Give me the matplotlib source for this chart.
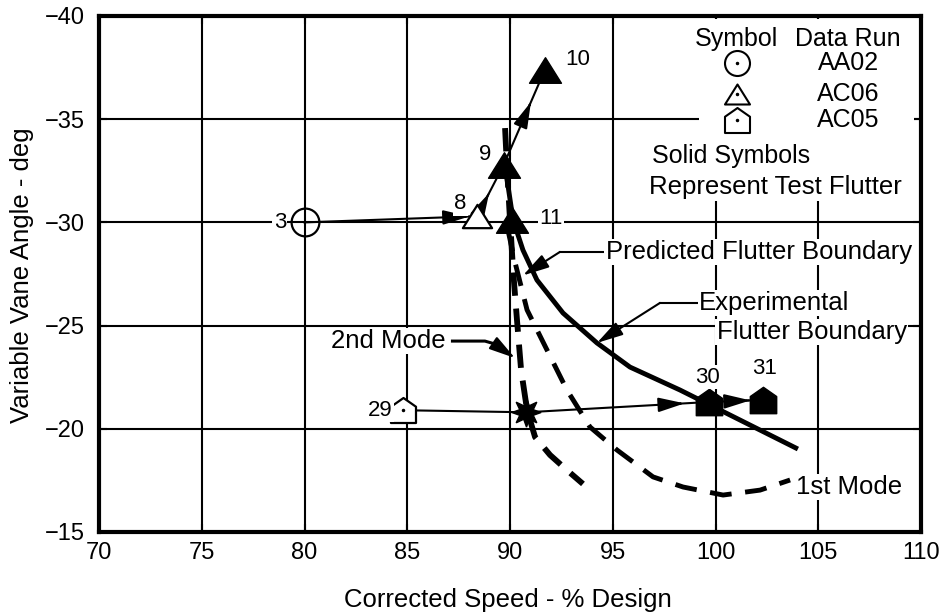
import matplotlib
matplotlib.use("Agg")
import matplotlib.pyplot as plt
from matplotlib.path import Path
from matplotlib.patches import Rectangle

plt.rcParams['font.family'] = ['Liberation Sans', 'DejaVu Sans']

# ---------------- data ----------------
x_ticks = [70, 75, 80, 85, 90, 95, 100, 105, 110]
y_ticks = [-40, -35, -30, -25, -20, -15]

# test points (speed %, vane angle deg)
pt3 = (80.0, -30.0)      # AA02 open circle
pt8 = (88.4, -30.3)      # AC06 open triangle
pt9 = (89.7, -32.8)      # AC06 solid triangle
pt10 = (91.7, -37.4)     # AC06 solid triangle
pt11 = (90.1, -30.1)     # AC06 solid triangle
pt29 = (84.8, -20.9)     # AC05 open pentagon
ptX = (90.8, -20.8)      # star
pt30 = (99.7, -21.3)     # AC05 solid pentagon
pt31 = (102.3, -21.4)    # AC05 solid pentagon

# experimental flutter boundary (solid)
exp_x = [89.76, 90.15, 90.63, 91.31, 92.58, 94.23, 95.84, 98.27, 100.22, 104.01]
exp_y = [-32.73, -30.12, -28.66, -27.21, -25.61, -24.16, -22.99, -21.88, -20.91, -19.02]

# predicted 2nd mode (heavy dash)
m2_x = [89.76, 89.85, 90.00, 90.15, 90.34, 90.54, 90.83, 91.22, 91.95, 92.77, 93.55]
m2_y = [-34.57, -32.73, -30.12, -27.69, -25.27, -22.85, -20.91, -19.60, -18.73, -18.00, -17.33]

# predicted 1st mode (dash)
m1_x = [89.90, 90.24, 90.83, 91.80, 92.77, 93.89, 95.21, 96.96, 98.42, 100.37, 102.17, 103.63]
m1_y = [-29.63, -28.08, -25.76, -23.82, -21.88, -20.09, -18.97, -17.67, -17.18, -16.79, -17.03, -17.52]

legend_names = ['AA02', 'AC06', 'AC05']

# ---------------- figure ----------------
fig = plt.figure(figsize=(9.43, 6.14), dpi=100)
ax = fig.add_axes([99/943, 1-532/614, 822/943, 516/614])
ax.set_xlim(70, 110)
ax.set_ylim(-15, -40)
ax.set_xticks(x_ticks)
ax.set_yticks(y_ticks)
ax.set_xticklabels([str(v) for v in x_ticks], fontsize=17)
ax.set_yticklabels(['\u2212%d' % abs(v) for v in y_ticks], fontsize=17)
ax.tick_params(direction='in', length=6, width=1.5, top=True, right=True)
ax.tick_params(axis='x', pad=7)
ax.tick_params(axis='y', pad=10)
for s in ax.spines.values():
    s.set_linewidth(3)
ax.set_axisbelow(True)
ax.grid(True, color='black', linewidth=1.5, zorder=0.5)

fig.text(508/943, 1-600/614, 'Corrected Speed - % Design', ha='center', va='center', fontsize=18.5)
fig.text(22/943, 1-275/614, 'Variable Vane Angle - deg', ha='center', va='center',
         rotation=90, fontsize=18.5)

# legend white box
ax.add_patch(Rectangle((0.73, 0.65), 0.262, 0.345, transform=ax.transAxes,
                       facecolor='white', edgecolor='none', zorder=1))

# curves
ax.plot(exp_x, exp_y, color='black', lw=3.5, solid_capstyle='butt', zorder=2)
ax.plot(m2_x, m2_y, color='black', lw=4.2, dashes=(4.0, 2.2), zorder=2)
ax.plot(m1_x, m1_y, color='black', lw=3.5, dashes=(4.5, 2.8), zorder=2)

AP = dict(arrowstyle='-|>,head_length=0.8,head_width=0.22', color='black', lw=1.5,
          mutation_scale=20, shrinkA=0, shrinkB=0)

def head(p0, p1, t):
    hx = p0[0] + (p1[0]-p0[0])*t
    hy = p0[1] + (p1[1]-p0[1])*t
    tx = hx - (p1[0]-p0[0])*0.03
    ty = hy - (p1[1]-p0[1])*0.03
    ax.annotate('', xy=(hx, hy), xytext=(tx, ty), arrowprops=AP, zorder=3)

# connecting lines with arrowheads
def seg(p0, p1, t=None):
    ax.plot([p0[0], p1[0]], [p0[1], p1[1]], color='black', lw=1.5, zorder=3)
    if t is not None:
        head(p0, p1, t)

seg(pt3, pt8, 0.955)
seg(pt8, pt9, 0.45)
seg(pt9, pt10, 0.66)
seg(pt29, ptX)
seg(ptX, pt30, 0.865)
seg(pt30, pt31, 0.77)

# markers
tri = Path([(-1, -0.8), (1, -0.8), (0, 0.8), (-1, -0.8)],
           [Path.MOVETO, Path.LINETO, Path.LINETO, Path.CLOSEPOLY])
house = Path([(-1, -1), (1, -1), (1, 0.3), (0, 1), (-1, 0.3), (-1, -1)],
             [Path.MOVETO, Path.LINETO, Path.LINETO, Path.LINETO, Path.LINETO, Path.CLOSEPOLY])

ax.plot(*pt3, marker='o', ms=20, mfc='none', mec='black', mew=1.6, zorder=4)
ax.plot(*pt8, marker=tri, ms=21, mfc='white', mec='black', mew=1.6, zorder=4)
for p in (pt9, pt10, pt11):
    ax.plot(*p, marker=tri, ms=23, mfc='black', mec='black', mew=1, zorder=4)
ax.plot(*pt29, marker=house, ms=18, mfc='white', mec='black', mew=1.6, zorder=4)
ax.plot(*pt29, marker='.', ms=3, color='black', zorder=4)
for p in (pt30, pt31):
    ax.plot(*p, marker=house, ms=19, mfc='black', mec='black', mew=1, zorder=4)
ax.plot(*ptX, marker=(8, 1, 0), ms=21, color='black', zorder=4)

# point labels
wb = dict(facecolor='white', edgecolor='none', pad=1)
def lab(x, y, s, fs=16, **kw):
    ax.text(x, y, s, fontsize=fs, ha='center', va='center', bbox=wb, zorder=5, **kw)

lab(78.8, -30.0, '3')
lab(87.6, -30.9, '8')
lab(88.8, -33.3, '9')
lab(93.3, -37.9, '10')
lab(92.0, -30.2, '11')
lab(83.7, -20.9, '29')
lab(99.6, -22.5, '30')
lab(102.4, -22.9, '31')

# curve annotations
FS = 18.5
ax.text(94.65, -28.57, 'Predicted Flutter Boundary', fontsize=FS, ha='left', va='center',
        bbox=wb, zorder=5)
ax.plot([94.65, 92.43], [-28.57, -28.57], color='black', lw=1.5, zorder=3)
ax.annotate('', xy=(90.63, -27.43), xytext=(92.43, -28.57), arrowprops=AP, zorder=3)

ax.text(99.2, -26.1, 'Experimental', fontsize=FS, ha='left', va='center', bbox=wb, zorder=5)
ax.text(100.05, -24.7, 'Flutter Boundary', fontsize=FS, ha='left', va='center', bbox=wb, zorder=5)
ax.plot([99.2, 97.3], [-26.1, -26.1], color='black', lw=1.5, zorder=3)
ax.annotate('', xy=(94.23, -24.16), xytext=(97.3, -26.1), arrowprops=AP, zorder=3)

ax.text(84.06, -24.25, '2nd Mode', fontsize=FS, ha='center', va='center', bbox=wb, zorder=5)
ax.plot([87.2, 88.78, 89.3, 89.7], [-24.25, -24.25, -24.1, -23.8], color='black', lw=2.2,
        zorder=3, solid_joinstyle='round')
ax.annotate('', xy=(90.24, -23.43), xytext=(89.7, -23.8), arrowprops=AP, zorder=3)

ax.text(106.5, -17.18, '1st Mode', fontsize=FS, ha='center', va='center', bbox=wb, zorder=5)

# legend
LFS = 18
ax.text(101.0, -38.9, 'Symbol', fontsize=LFS, ha='center', va='center', zorder=5)
ax.text(106.45, -38.9, 'Data Run', fontsize=LFS, ha='center', va='center', zorder=5)
leg_y = [-37.7, -36.2, -34.95]
leg_markers = ['o', tri, house]
for nm, yy, mk in zip(legend_names, leg_y, leg_markers):
    ax.plot(101.05, yy, marker=mk, ms=18, mfc='white', mec='black', mew=1.5, zorder=5)
    ax.plot(101.05, yy, marker='.', ms=3, color='black', zorder=5)
    ax.text(106.45, yy, nm, fontsize=LFS, ha='center', va='center', zorder=5)
ax.text(96.9, -33.2, 'Solid Symbols', fontsize=LFS, ha='left', va='center', bbox=wb, zorder=5)
ax.text(102.9, -31.7, 'Represent Test Flutter', fontsize=18.5, ha='center', va='center',
        bbox=wb, zorder=5)

fig.savefig('out.png', dpi=100)
